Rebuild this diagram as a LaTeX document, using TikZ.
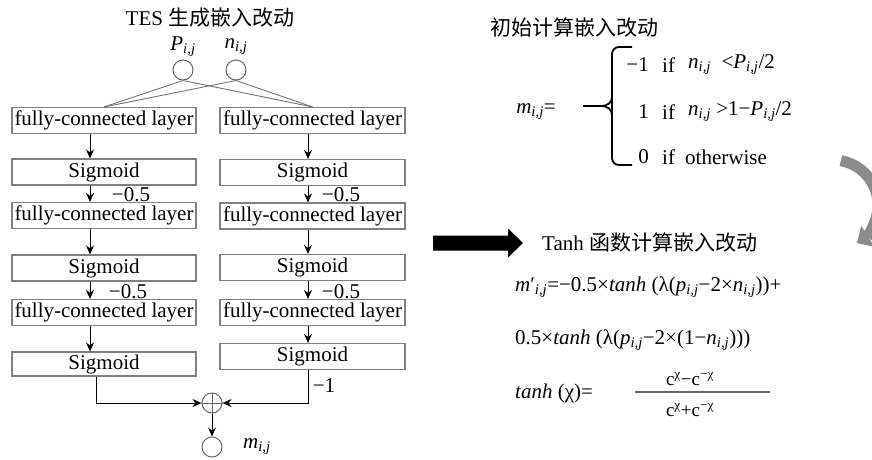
\documentclass[tikz,border=0pt]{standalone}
\usepackage{fontspec}
\setmainfont{Liberation Serif}
\newfontfamily\cjk{Noto Sans CJK SC}
\usetikzlibrary{arrows.meta}
\newcommand{\sij}{\textsubscript{\textit{i,j}}}
\begin{document}
\begin{tikzpicture}[x=1pt,y=-1pt,
  layer/.style={draw=black!50, line width=1.1pt, minimum height=26pt, inner sep=0pt, font=\fontsize{21}{24}\selectfont},
  lw/.style={layer, minimum width=184pt},
  rw/.style={layer, minimum width=185pt},
  io/.style={draw=black!60, line width=1pt, circle, minimum size=20pt, inner sep=0pt},
  arr/.style={-{Stealth[length=9pt,width=8pt]}, line width=1pt, black},
  thin/.style={draw=black!55, line width=0.9pt},
  lbl/.style={font=\fontsize{21}{24}\selectfont, inner sep=0pt},
  off/.style={lbl, text height=14pt, text depth=0pt},
  fml/.style={font=\fontsize{21}{24}\selectfont, inner sep=0pt, anchor=west},
]
\useasboundingbox (0,0) rectangle (872,459);

% ---------- left network ----------
\node[lbl] (title) at (210,18) {TES {\cjk 生成嵌入改动}};
\node[lbl] (Plab) at (183,47) {\textit{P}\sij};
\node[lbl] (nlab) at (236,47) {\textit{n}\sij};
\node[io] (P) at (183,70) {};
\node[io] (n) at (236,70) {};

\node[lw] (f1l) at (104,120.5) {fully-connected layer};
\node[lw] (s1l) at (104,172) {Sigmoid};
\node[lw] (f2l) at (104,215.5) {fully-connected layer};
\node[lw] (s2l) at (104,268) {Sigmoid};
\node[lw] (f3l) at (104,312.5) {fully-connected layer};
\node[lw, minimum height=24pt] (s3l) at (104,364) {Sigmoid};

\node[rw] (f1r) at (312.5,120.5) {fully-connected layer};
\node[rw] (s1r) at (312.5,172.5) {Sigmoid};
\node[rw] (f2r) at (312.5,216) {fully-connected layer};
\node[rw] (s2r) at (312.5,267.5) {Sigmoid};
\node[rw] (f3r) at (312.5,312.5) {fully-connected layer};
\node[rw] (s3r) at (312.5,356.5) {Sigmoid};

\draw[thin] (P.south) -- (f1l.north);
\draw[thin] (P.south) -- (f1r.north);
\draw[thin] (n.south) -- (f1l.north);
\draw[thin] (n.south) -- (f1r.north);

\foreach \a/\b in {f1l/s1l,s1l/f2l,f2l/s2l,s2l/f3l,f3l/s3l}
  \draw[arr] ([xshift=-14pt]\a.south) -- ([xshift=-14pt]\b.north);
\foreach \a/\b in {f1r/s1r,s1r/f2r,f2r/s2r,s2r/f3r,f3r/s3r}
  \draw[arr] ([xshift=-4.5pt]\a.south) -- ([xshift=-4.5pt]\b.north);

\node[off] (m1) at (131,194) {−0.5};
\node[off] (m2) at (128,291) {−0.5};
\node[off] (m3) at (341,194) {−0.5};
\node[off] (m4) at (341,291) {−0.5};
\node[off] (m5) at (324,385) {−1};

\node[io] (sum) at (212,403) {};
\draw[black!60, line width=1pt] (sum.north) -- (sum.south) (sum.west) -- (sum.east);
\node[io] (out) at (212,447) {};
\node[lbl, anchor=west] (mlab) at (243,447) {\textit{m}\sij};

\draw[arr] ([xshift=-8pt]s3l.south) |- (sum.west);
\draw[arr] ([xshift=-4.5pt]s3r.south) |- (sum.east);
\draw[arr] (sum.south) -- (out.north);

% ---------- right: initial ----------
\node[lbl] (t2) at (574,28) {\cjk 初始计算嵌入改动};
\node[lbl] (meq) at (536,112) {\textit{m}\sij=};
\draw[line width=1.8pt, rounded corners=7pt] (632,47) -- (612,47) -- (612,165) -- (632,165);
\draw[line width=1.8pt] (583,106) -- (600,106) .. controls (608,106) and (612,103) .. (612,96);
\draw[line width=1.8pt] (600,106) .. controls (608,106) and (612,109) .. (612,116);

\node[lbl, anchor=east] (c1n) at (649,65) {−1};
\node[lbl, anchor=west] (c1i) at (662,65) {if};
\node[lbl, anchor=west] (c1r) at (688,65) {\textit{n}\sij\ \ <\textit{P}\sij/2};
\node[lbl, anchor=east] (c2n) at (649,112) {1};
\node[lbl, anchor=west] (c2i) at (662,112) {if};
\node[lbl, anchor=west] (c2r) at (688,112) {\textit{n}\sij\ >1−\textit{P}\sij/2};
\node[lbl, anchor=east] (c3n) at (649,157) {0};
\node[lbl, anchor=west] (c3i) at (662,157) {if};
\node[lbl, anchor=west] (c3r) at (685,157) {otherwise};

% ---------- big arrow ----------
\fill[black] (433,235.5) -- (508,235.5) -- (508,228.5) -- (523,243) -- (508,257.5) -- (508,250.5) -- (433,250.5) -- cycle;
\node[lbl, anchor=west] (t3) at (542,243) {Tanh {\cjk 函数计算嵌入改动}};

% ---------- formulas ----------
\node[fml] (e1) at (515,287) {\textit{m}′\sij=−0.5×\textit{tanh} (λ(\textit{p}\sij−2×\textit{n}\sij))+};
\node[fml] (e2) at (515,340) {0.5×\textit{tanh} (λ(\textit{p}\sij−2×(1−\textit{n}\sij)))};
\node[fml] (e3) at (515,393) {\textit{tanh} (χ)=};
\draw[black!60, line width=1.1pt] (635,392) -- (770,392);
\node[lbl, font=\fontsize{19}{20}\selectfont] (num) at (690,379) {c\textsuperscript{χ}−c\textsuperscript{−χ}};
\node[lbl, font=\fontsize{19}{20}\selectfont] (den) at (690,410) {c\textsuperscript{χ}+c\textsuperscript{−χ}};

% ---------- curved arrow ----------
\begin{scope}
\clip (0,0) rectangle (872,459);
\draw[black!45, line width=11pt, -{Triangle[length=13pt,width=24pt]}] (833,205) ++(-80:45) arc[start angle=-80, end angle=58, radius=45];
\end{scope}
\end{tikzpicture}
\end{document}
